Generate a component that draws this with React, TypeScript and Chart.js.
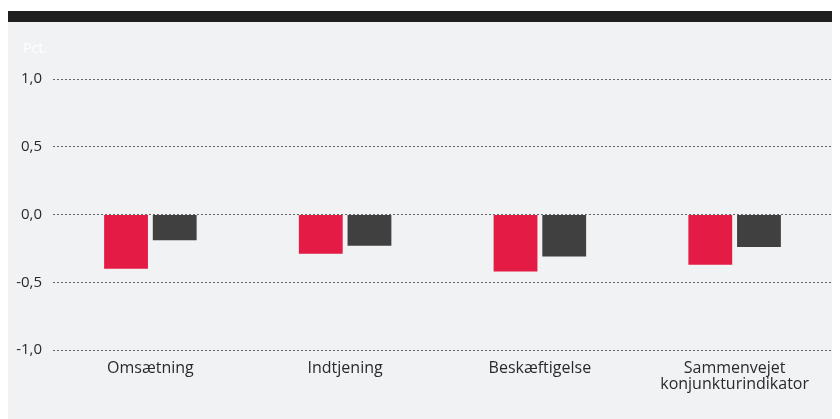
import React, { useEffect, useRef } from "react";
import { Chart, registerables } from "chart.js";

Chart.register(...registerables);

const categories: (string | string[])[] = [
  "Omsætning",
  "Indtjening",
  "Beskæftigelse",
  ["Sammenvejet", "konjunkturindikator"],
];
const seriesA = [-0.4, -0.29, -0.42, -0.37];
const seriesB = [-0.19, -0.23, -0.31, -0.24];
const yTicks = [1.0, 0.5, 0.0, -0.5, -1.0];

const FONT = "'Open Sans', sans-serif";

export default function App() {
  const ref = useRef<HTMLCanvasElement | null>(null);

  useEffect(() => {
    if (!ref.current) return;
    const chart = new Chart(ref.current, {
      type: "bar",
      data: {
        labels: categories,
        datasets: [
          {
            data: seriesA,
            backgroundColor: "#e31b45",
            barPercentage: 0.9,
            categoryPercentage: 0.5,
          },
          {
            data: seriesB,
            backgroundColor: "#404040",
            barPercentage: 0.9,
            categoryPercentage: 0.5,
          },
        ],
      },
      options: {
        animation: false,
        responsive: true,
        maintainAspectRatio: false,
        layout: { padding: { top: 57, right: 0, left: 0, bottom: 0 } },
        plugins: { legend: { display: false }, tooltip: { enabled: false } },
        scales: {
          x: {
            grid: { display: false },
            border: { display: false },
            afterFit: (s: any) => {
              s.height = 69;
            },
            ticks: {
              color: "#2a2a2a",
              font: { family: FONT, size: 16, lineHeight: 1.0 },
              padding: 2,
              maxRotation: 0,
              autoSkip: false,
            },
          },
          y: {
            min: -1,
            max: 1,
            afterFit: (s: any) => {
              s.width = 45;
            },
            afterBuildTicks: (s: any) => {
              s.ticks = yTicks.map((v) => ({ value: v }));
            },
            grid: {
              color: "#666",
              lineWidth: 1,
              drawTicks: false,
            },
            border: { display: false, dash: [2, 2] },
            ticks: {
              color: "#2a2a2a",
              font: { family: FONT, size: 15 },
              padding: 11,
              callback: (v: any) => Number(v).toFixed(1).replace(".", ","),
            },
          },
        },
      },
    });
    return () => chart.destroy();
  }, []);

  return (
    <div style={{ width: 824, position: "relative" }}>
      <div style={{ height: 3, background: "#fff" }} />
      <div style={{ height: 11, background: "#1f1f1f" }} />
      <div
        style={{
          position: "relative",
          height: 397,
          background: "#f1f2f4",
        }}
      >
        <div
          style={{
            position: "absolute",
            left: 15,
            top: 16,
            color: "#ffffff",
            fontFamily: FONT,
            fontSize: 14,
          }}
        >
          Pct.
        </div>
        <div style={{ position: "absolute", left: 0, top: 0, width: 824, height: 397 }}>
          <canvas ref={ref} />
        </div>
      </div>
    </div>
  );
}
